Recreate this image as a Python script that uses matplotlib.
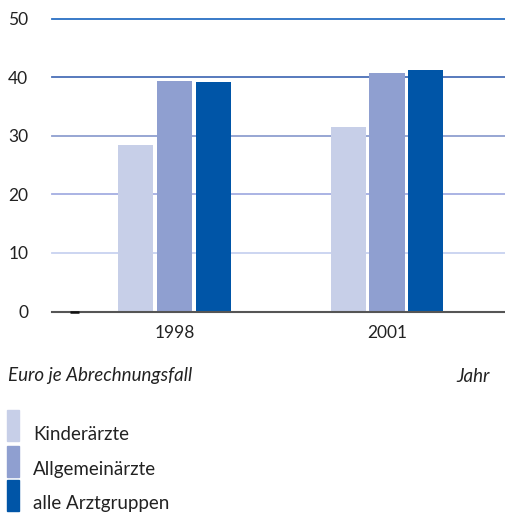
import matplotlib.pyplot as plt
import numpy as np

years = ["1998", "2001"]
series = ["Kinderärzte", "Allgemeinärzte", "alle Arztgruppen"]
kinder = [28.4, 31.5]
allgemein = [39.3, 40.7]
alle = [39.1, 41.2]
yticks = [0, 10, 20, 30, 40, 50]

colors = ["#c7cfe8", "#8f9fd0", "#0055a7"]
grid_colors = {10: "#c8d2f0", 20: "#a4aee2", 30: "#8f9fd0", 40: "#4a70b8", 50: "#2a6fc4"}

plt.rcParams["font.family"] = ["Lato", "DejaVu Sans"]
fig = plt.figure(figsize=(5.06, 5.17), dpi=100)
ax = fig.add_axes([52 / 506, 1 - 311.5 / 517, 454 / 506, 293 / 517])

for v in yticks[1:]:
    ax.axhline(v, color=grid_colors[v], lw=1.3, zorder=0, clip_on=False)
ax.axhline(0, color="#555555", lw=1.5, zorder=3, clip_on=False)
ax.plot([-0.49, -0.45], [0, 0], color="#111111", lw=1.8, zorder=4, solid_capstyle="butt", clip_on=False)

x = np.arange(len(years))
w = 0.165
step = 0.183
for i, (vals, c) in enumerate(zip([kinder, allgemein, alle], colors)):
    ax.bar(x + (i - 1) * step, vals, width=w, color=c, zorder=2, label=series[i])

ax.set_xlim(-0.576, 1.56)
ax.set_ylim(0, 50)
ax.set_yticks(yticks)
ax.set_yticklabels([str(v) for v in yticks], fontsize=12.5, color="#222222")
ax.set_xticks(x)
ax.set_xticklabels(years, fontsize=12.5, color="#222222")
ax.tick_params(length=0, axis="y", pad=17)
ax.tick_params(length=0, axis="x", pad=10)
for s in ax.spines.values():
    s.set_visible(False)

fig.text(8 / 506, 1 - 376 / 517, "Euro je Abrechnungsfall", fontsize=13.5, style="italic",
         color="#222222", va="center", ha="left")
fig.text(490 / 506, 1 - 376 / 517, "Jahr", fontsize=13.5, style="italic",
         color="#222222", va="center", ha="right")

leg_y = [410, 446, 480]
for yy, c, name in zip(leg_y, colors, series):
    fig.patches.append(plt.Rectangle((7 / 506, 1 - (yy + 31) / 517), 12 / 506, 31 / 517,
                                     transform=fig.transFigure, color=c))
    fig.text(33 / 506, 1 - (yy + 24) / 517, name, fontsize=13.5, color="#222222",
             va="center", ha="left")

fig.savefig("out.png", dpi=100)
